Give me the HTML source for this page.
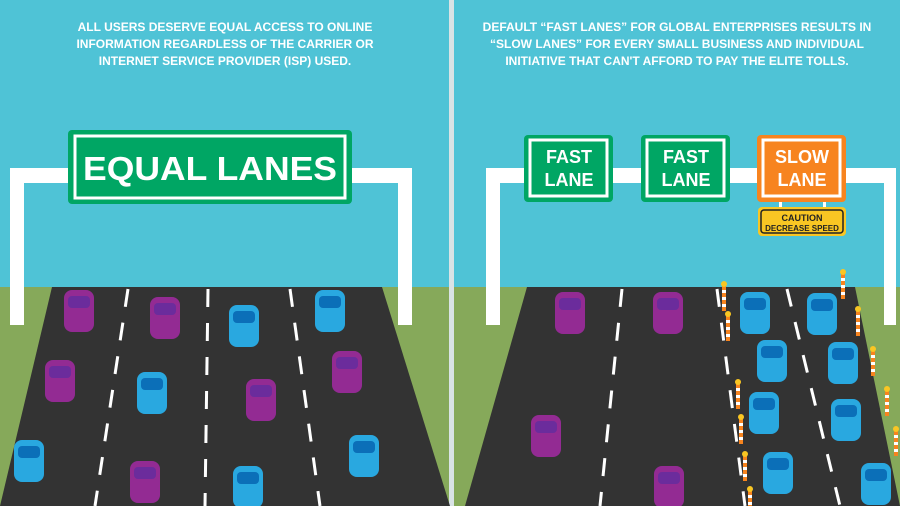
<!DOCTYPE html>
<html><head><style>body{margin:0}svg{display:block}text{font-family:"Liberation Sans",sans-serif;font-weight:bold}</style></head><body>
<svg width="900" height="506" xmlns="http://www.w3.org/2000/svg">
<defs>
<g id="cp"><rect x="0" y="0" width="30" height="42" rx="8" fill="#932b93"/><rect x="4" y="6" width="22" height="12" rx="4" fill="#6b2c9c"/></g>
<g id="cb"><rect x="0" y="0" width="30" height="42" rx="8" fill="#29a8e0"/><rect x="4" y="6" width="22" height="12" rx="4" fill="#0b6fb8"/></g>
<g id="cone"><rect x="-2" y="0" width="4" height="26" fill="#f7841f"/><rect x="-2" y="5" width="4" height="3" fill="#fff"/><rect x="-2" y="12" width="4" height="3" fill="#fff"/><rect x="-2" y="19" width="4" height="3" fill="#fff"/><circle cx="0" cy="-1" r="3" fill="#f9c623"/></g>
</defs>
<rect width="900" height="506" fill="#4fc3d6"/>
<rect x="0" y="287" width="900" height="219" fill="#86a95a"/>
<rect x="449" y="0" width="5" height="506" fill="#d9e3e5"/>
<text fill="#fff" font-size="12" text-anchor="middle" font-weight="normal"><tspan x="225" y="31">ALL USERS DESERVE EQUAL ACCESS TO ONLINE</tspan><tspan x="225" y="48">INFORMATION REGARDLESS OF THE CARRIER OR</tspan><tspan x="225" y="65">INTERNET SERVICE PROVIDER (ISP) USED.</tspan></text>
<text fill="#fff" font-size="12" text-anchor="middle" font-weight="normal"><tspan x="677" y="31">DEFAULT “FAST LANES” FOR GLOBAL ENTERPRISES RESULTS IN</tspan><tspan x="677" y="48">“SLOW LANES” FOR EVERY SMALL BUSINESS AND INDIVIDUAL</tspan><tspan x="677" y="65">INITIATIVE THAT CAN'T AFFORD TO PAY THE ELITE TOLLS.</tspan></text>
<polygon points="52,287 382,287 450,506 0,506" fill="#333"/>
<polygon points="527,287 855,287 900,506 465,506" fill="#333"/>
<g stroke="#fff" stroke-width="3" stroke-dasharray="18 16">
<line x1="128" y1="289" x2="95" y2="506"/><line x1="208" y1="289" x2="205" y2="506"/><line x1="290" y1="289" x2="320" y2="506"/>
<line x1="622" y1="289" x2="600" y2="506"/><line x1="717" y1="289" x2="745" y2="506"/><line x1="787" y1="289" x2="840" y2="506"/>
</g>
<path d="M10,325 V168 H412 V325 H398 V183 H24 V325 Z" fill="#fff"/>
<path d="M486,325 V168 H896 V325 H884 V183 H500 V325 Z" fill="#fff"/>
<rect x="68" y="130" width="284" height="74" rx="4" fill="#00a664"/>
<rect x="75" y="136" width="270" height="62" fill="none" stroke="#fff" stroke-width="3"/>
<text x="210" y="180" fill="#fff" font-size="33" text-anchor="middle" textLength="254" lengthAdjust="spacingAndGlyphs">EQUAL LANES</text>
<g fill="#00a664"><rect x="524" y="135" width="89" height="67" rx="4"/><rect x="641" y="135" width="89" height="67" rx="4"/></g>
<rect x="757" y="135" width="89" height="67" rx="4" fill="#f7841f"/>
<g fill="none" stroke="#fff" stroke-width="3"><rect x="530" y="140" width="77" height="56"/><rect x="647" y="140" width="77" height="56"/><rect x="763" y="140" width="77" height="56"/></g>
<g fill="#fff" font-size="18" text-anchor="middle"><text x="569" y="163">FAST</text><text x="569" y="186">LANE</text><text x="686" y="163">FAST</text><text x="686" y="186">LANE</text><text x="802" y="163">SLOW</text><text x="802" y="186">LANE</text></g>
<rect x="779" y="202" width="3" height="6" fill="#fff"/><rect x="823" y="202" width="3" height="6" fill="#fff"/>
<rect x="758" y="207" width="88" height="29" rx="4" fill="#f9c623"/>
<rect x="761" y="210" width="82" height="23" rx="3" fill="none" stroke="#222" stroke-width="1.5"/>
<text x="802" y="221" font-size="9" text-anchor="middle" fill="#222">CAUTION</text>
<text x="802" y="231" font-size="8" text-anchor="middle" fill="#222">DECREASE SPEED</text>
<use href="#cp" x="64" y="290"/><use href="#cp" x="150" y="297"/><use href="#cb" x="229" y="305"/><use href="#cb" x="315" y="290"/>
<use href="#cp" x="45" y="360"/><use href="#cb" x="137" y="372"/><use href="#cp" x="246" y="379"/><use href="#cp" x="332" y="351"/>
<use href="#cb" x="14" y="440"/><use href="#cp" x="130" y="461"/><use href="#cb" x="233" y="466"/><use href="#cb" x="349" y="435"/>
<use href="#cp" x="555" y="292"/><use href="#cp" x="653" y="292"/><use href="#cb" x="740" y="292"/><use href="#cb" x="807" y="293"/>
<use href="#cb" x="757" y="340"/><use href="#cb" x="828" y="342"/><use href="#cp" x="531" y="415"/><use href="#cb" x="749" y="392"/>
<use href="#cb" x="831" y="399"/><use href="#cb" x="763" y="452"/><use href="#cp" x="654" y="466"/><use href="#cb" x="861" y="463"/>
<g><use href="#cone" x="724" y="285"/><use href="#cone" x="728" y="315"/><use href="#cone" x="843" y="273"/><use href="#cone" x="858" y="310"/><use href="#cone" x="873" y="350"/><use href="#cone" x="738" y="383"/><use href="#cone" x="741" y="418"/><use href="#cone" x="745" y="455"/><use href="#cone" x="750" y="490"/><use href="#cone" x="887" y="390"/><use href="#cone" x="896" y="430"/></g>
</svg>
</body></html>
